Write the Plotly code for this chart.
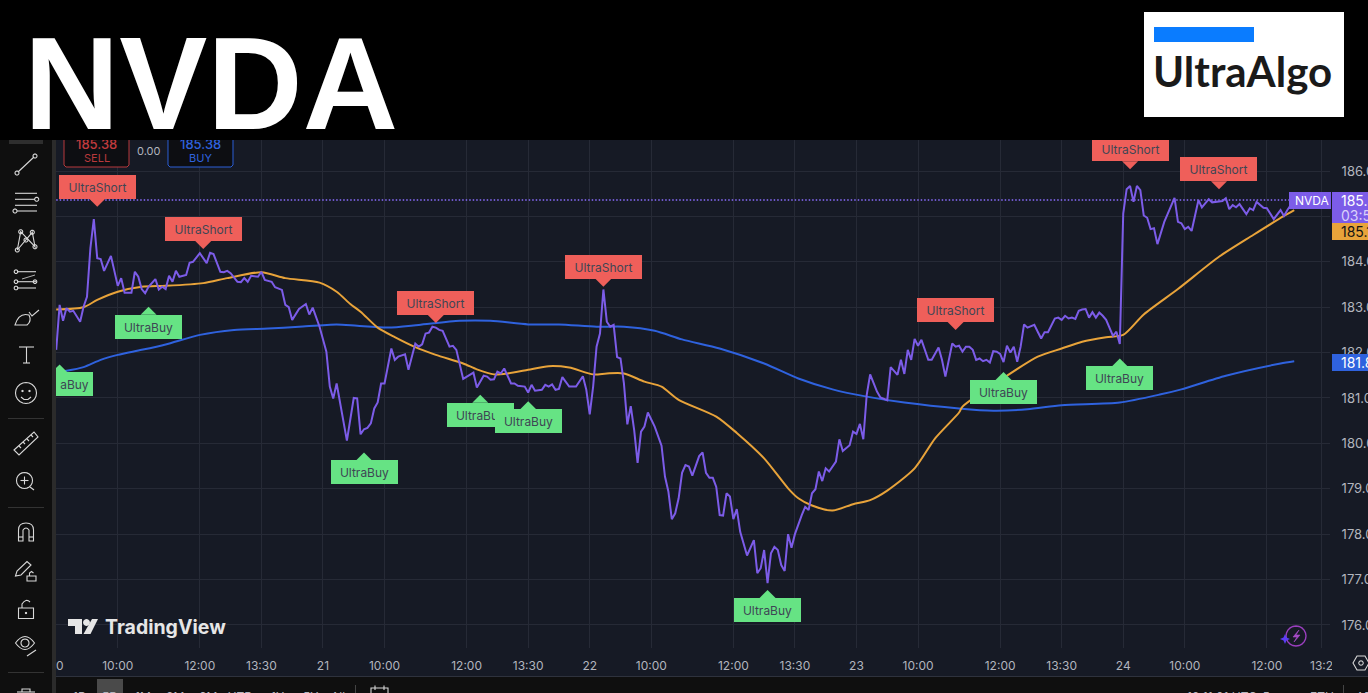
#!/usr/bin/env python3
"""NVDA 5-minute line chart with UltraAlgo signals, TradingView style."""

import math

import plotly.graph_objects as go

# ─── Data (bar = 5 min bar number, 78 bars per session) ─────────────────────────
close_bars = [
    0, 1, 2, 3, 4, 5, 7, 8, 9, 10, 11, 12, 13, 14, 16, 17, 18, 19, 20, 22, 23, 24, 25, 26, 27, 29, 30, 31, 32, 33, 34,
    35, 36, 38, 39, 40, 42, 44, 45, 46, 48, 49, 50, 51, 53, 54, 55, 56, 57, 59, 60, 61, 63, 64, 66, 67, 68, 69, 71, 73,
    74, 75, 77,
    79, 80, 81, 82, 85, 87, 88, 89, 90, 91, 92, 93, 94, 95, 96, 98, 99, 100, 102, 103, 105, 106, 107, 108, 109, 110,
    111, 112, 113, 115, 116, 117, 119, 120, 122, 123, 125, 126, 127, 128, 129, 130, 131, 133, 134, 135, 137, 138, 139,
    140, 142, 143, 144, 145, 146, 147, 148, 150, 152, 154, 155,
    156, 157, 158, 159, 160, 161, 162, 163, 164, 165, 166, 167, 168, 169, 170, 171, 172, 173, 175, 177, 178, 179, 180,
    181, 182, 183, 184, 185, 186, 187, 188, 189, 190, 191, 192, 193, 194, 195, 196, 197, 198, 199, 200, 202, 204, 205,
    206, 207, 208, 209, 210, 211, 212, 213, 214, 215, 216, 218, 219, 220, 221, 222, 223, 224, 225, 226, 228, 229, 230,
    232, 233,
    234, 235, 236, 237, 238, 239, 240, 241, 243, 244, 246, 247, 248, 249, 250, 251, 252, 253, 255, 256, 258, 259, 260,
    262, 263, 264, 265, 266, 267, 268, 269, 270, 271, 272, 273, 274, 275, 276, 277, 278, 279, 280, 281, 282, 283, 284,
    286, 287, 288, 289, 290, 292, 293, 294, 295, 296, 297, 298, 299, 300, 301, 302, 303, 304, 305, 306, 307, 309, 310,
    311,
    312, 313, 314, 315, 316, 317, 318, 319, 320, 321, 322, 324, 327, 328, 329, 330, 331, 332, 334, 335, 337, 338, 340,
    341, 342, 343, 344, 345, 346, 348, 349, 350, 351, 353, 354, 356, 358, 359, 360, 361, 362,
]
close_prices = [
    182.06, 183.05, 182.70, 182.98, 182.90, 182.92, 182.68, 183.01, 183.23, 184.30, 184.94, 184.08, 184.06, 183.80,
    184.13, 183.78, 183.47, 183.64, 183.32, 183.32, 183.78, 183.67, 183.40, 183.31, 183.45, 183.62, 183.39, 183.45,
    183.40, 183.69, 183.56, 183.80, 183.67, 183.71, 183.98, 184.00, 184.19, 183.97, 184.20, 184.17, 183.78, 183.77,
    183.80, 183.75, 183.56, 183.55, 183.64, 183.56, 183.69, 183.67, 183.78, 183.60, 183.56, 183.44, 183.38, 183.05,
    183.00, 182.72, 182.96, 183.07, 182.84, 182.99, 182.57,
    182.02, 181.25, 180.99, 181.32, 180.06, 181.00, 180.99, 180.20, 180.31, 180.34, 180.44, 180.77, 180.90, 181.32,
    181.32, 182.09, 181.84, 181.91, 181.96, 181.62, 182.20, 182.13, 182.18, 182.42, 182.44, 182.57, 182.55, 182.50,
    182.48, 182.13, 182.15, 182.06, 181.42, 181.47, 181.56, 181.23, 181.49, 181.47, 181.40, 181.41, 181.58, 181.54,
    181.65, 181.32, 181.32, 181.27, 181.25, 181.12, 181.29, 181.16, 181.18, 181.29, 181.25, 181.30, 181.18, 181.20,
    181.46, 181.25, 181.25, 181.48, 181.18,
    180.64, 181.25, 182.13, 182.42, 183.39, 182.68, 182.57, 182.61, 181.90, 181.87, 181.32, 180.42, 180.82, 180.29,
    179.57, 180.26, 180.37, 180.68, 180.37, 179.95, 179.27, 178.94, 178.33, 178.46, 178.79, 179.35, 179.52, 179.49,
    179.29, 179.49, 179.72, 179.80, 179.35, 179.24, 179.24, 179.04, 178.42, 178.41, 178.90, 178.83, 178.33, 178.55,
    178.05, 177.53, 177.87, 177.14, 177.25, 177.65, 176.92, 177.58, 177.72, 177.65, 177.32, 177.19, 178.00, 177.70,
    178.00, 178.42, 178.60, 178.53, 178.90, 178.99, 179.38, 179.17, 179.45, 179.38, 179.60, 180.09, 179.83, 179.96,
    180.26,
    180.21, 180.43, 180.09, 181.07, 181.52, 181.32, 181.14, 181.01, 180.95, 181.68, 181.51, 181.84, 181.53, 182.06,
    181.84, 182.30, 182.15, 182.28, 181.84, 181.84, 182.11, 181.84, 181.47, 182.20, 182.13, 182.15, 182.02, 182.13,
    182.13, 182.06, 181.84, 181.87, 181.81, 181.84, 181.78, 182.03, 182.02, 181.97, 181.79, 182.15, 182.00, 182.13,
    181.80, 182.13, 182.62, 182.55, 182.61, 182.46, 182.31, 182.45, 182.45, 182.75, 182.77, 182.72, 182.81, 182.75,
    182.77, 182.74, 182.92, 182.95, 182.96, 182.77, 182.89, 182.77, 182.88, 182.81, 182.72, 182.37, 182.46, 182.19,
    185.06, 185.60, 185.67, 185.32, 185.67, 185.58, 185.02, 184.97, 184.72, 184.74, 184.39, 184.88, 185.41, 184.88,
    184.85, 184.72, 184.77, 184.68, 185.36, 185.20, 185.38, 185.31, 185.34, 185.34, 185.40, 185.16, 185.25, 185.20,
    185.27, 185.05, 185.18, 185.14, 185.32, 185.19, 185.18, 184.94, 185.14, 185.01, 185.14, 185.25, 185.30,
]
assert len(close_bars) == len(close_prices), (len(close_bars), len(close_prices))

fast_ma_bars = [
    0, 8, 12, 18, 25, 32, 43, 50, 60, 67, 77, 82, 86, 89, 94, 99, 105, 111, 119, 123, 128, 132, 138, 144, 150, 157,
    161, 166, 172, 177, 182, 193, 199, 207, 214, 217, 221, 227, 233, 238, 243, 251, 257, 264, 265, 278, 287, 294, 300,
    307, 312, 318, 328, 340, 350, 359, 362,
]
fast_ma = [
    182.95, 183.00, 183.16, 183.34, 183.45, 183.47, 183.53, 183.64, 183.77, 183.64, 183.54, 183.34, 183.07, 182.90,
    182.55, 182.34, 182.12, 181.95, 181.76, 181.63, 181.52, 181.54, 181.62, 181.70, 181.67, 181.52, 181.54, 181.54,
    181.36, 181.25, 180.96, 180.59, 180.23, 179.67, 179.01, 178.79, 178.63, 178.52, 178.66, 178.75, 178.96, 179.45,
    180.11, 180.68, 180.81, 181.49, 181.91, 182.09, 182.24, 182.34, 182.39, 182.84, 183.40, 184.11, 184.59, 185.01,
    185.14,
]
slow_ma_bars = [
    0, 3, 8, 13, 18, 25, 32, 42, 52, 62, 71, 82, 88, 97, 106, 118, 127, 138, 147, 158, 166, 175, 183, 194, 207, 217,
    227, 237, 248, 264, 274, 284, 294, 311, 323, 329, 342, 358, 362,
]
slow_ma = [
    181.57, 181.60, 181.68, 181.84, 181.95, 182.06, 182.18, 182.39, 182.50, 182.53, 182.57, 182.62, 182.59, 182.55,
    182.61, 182.70, 182.70, 182.62, 182.62, 182.57, 182.57, 182.48, 182.29, 182.09, 181.76, 181.43, 181.19, 181.03,
    180.90, 180.77, 180.72, 180.75, 180.84, 180.90, 181.08, 181.19, 181.49, 181.76, 181.81,
]

short_bars = [12, 43, 111, 160, 263, 314, 340]
short_prices = [185.21, 184.28, 182.65, 183.45, 182.50, 186.04, 185.60]
buy_bars = [1, 27, 90, 124, 138, 208, 277, 311]
buy_prices = [181.74, 183.01, 179.80, 181.07, 180.93, 176.77, 181.57, 181.87]
buy_texts = ["aBuy", "UltraBuy", "UltraBuy", "UltraBuy", "UltraBuy", "UltraBuy", "UltraBuy", "UltraBuy"]

last_price_line = 185.36
time_ticks = [0, 18, 42, 60, 78, 96, 120, 138, 156, 174, 198, 216, 234, 252, 276, 294, 312, 330, 354, 370]
time_labels = ["20", "10:00", "12:00", "13:30", "21", "10:00", "12:00", "13:30", "22", "10:00", "12:00", "13:30",
               "23", "10:00", "12:00", "13:30", "24", "10:00", "12:00", "13:2"]
price_ticks = [176, 177, 178, 179, 180, 181, 182, 183, 184, 185, 186]
price_labels = ["176.00", "177.00", "178.00", "179.00", "180.00", "181.00", "182.00", "183.00", "184.00", "185.00", "186.00"]
range_labels = ["1D", "5D", "1M", "3M", "6M", "YTD", "1Y", "5Y", "All"]
range_label_px = [80, 110, 143, 175, 208, 240, 277, 310, 338]

# ─── Colors ─────────────────────────────────────────────────────────────────────
BG = "#161a25"
GRID = "#262a36"
PANEL = "#0f0f0f"
AXIS_TEXT = "#b2b5be"
ICON = "#d8d8d8"
PURPLE = "#7c5ce8"
ORANGE = "#e8a33a"
BLUE = "#2f62de"
RED = "#ef5f5a"
GREEN = "#66e384"
LABEL_TEXT = "#3e4654"
FONT = "Inter"

# ─── Page geometry (the plot area sits at x 56..1330, y 140..648) ───────────────
W, H = 1368, 693
L, R, T, B = 56, 1330, 140, 648


def px(x):
    return (x - L) / (R - L)


def py(y):
    return (B - y) / (B - T)


def poly(points, close=False):
    d = "M" + " L".join(f"{px(x):.5f},{py(y):.5f}" for x, y in points)
    return d + (" Z" if close else "")


def circ(cx, cy, r, n=20):
    pts = [(cx + r * math.cos(2 * math.pi * i / n), cy + r * math.sin(2 * math.pi * i / n)) for i in range(n)]
    return poly(pts, close=True)


def page_rect(x0, y0, x1, y1, fill, line=None, width=1):
    return dict(type="rect", xref="paper", yref="paper", layer="above",
                x0=px(x0), x1=px(x1), y0=py(y1), y1=py(y0), fillcolor=fill,
                line=dict(color=line or fill, width=width if line else 0))


def page_path(d, color=ICON, width=1.1, fill="rgba(0,0,0,0)"):
    return dict(type="path", xref="paper", yref="paper", layer="above", path=d,
                fillcolor=fill, line=dict(color=color, width=width))


def text_at(text, x, y, size=12, color=AXIS_TEXT, anchor="center", family=FONT, **kw):
    return dict(text=text, xref="paper", yref="paper", x=px(x), y=py(y), xanchor=anchor, yanchor="middle",
                showarrow=False, font=dict(size=size, color=color, family=family, **kw.pop("font", {})),
                borderwidth=0, borderpad=0, **kw)


def toolbar_shapes():
    s = [page_rect(0, 140, 52, H, PANEL), page_rect(52, 140, 56, H, "#2b2b2b"),
         page_rect(56, 677, W, H, PANEL), page_rect(56, 676, W, 677, "#2e323d"),
         page_rect(9, 138, 43, 144, "#2e2e2e"), page_rect(97, 679, 123, H, "#4a4a4a"),
         page_rect(1332, 648, W, 676, BG)]
    s.append(page_rect(355, 685, 356, H, "#444444"))
    s.append(page_rect(1343, 685, 1344, H, "#444444"))
    # line tool
    s += [page_path(poly([(18, 172), (34, 157)])), page_path(circ(17, 173, 2)), page_path(circ(35, 156, 2))]
    # parallel lines
    for y, x0, x1 in [(193.3, 15, 37), (199.3, 15, 35), (205.3, 15, 37), (211, 17, 37)]:
        s.append(page_path(poly([(x0, y), (x1, y)])))
    s += [page_path(circ(36.7, 199.3, 2)), page_path(circ(15, 211, 2))]
    # pattern
    s.append(page_path(poly([(17.3, 250), (20.7, 231.7), (35, 246.7), (32.3, 232.3), (17.3, 250)])))
    s += [page_path(circ(x, y, 2)) for x, y in [(17.3, 250), (20.7, 231.7), (35, 246.7), (32.3, 232.3), (26, 240)]]
    # fib lines
    for y in [271.7, 281.7, 288]:
        s.append(page_path(poly([(17, y), (36, y)])))
    s.append(page_path(poly([(22, 279), (35, 275)]), width=0.8))
    s += [page_path(circ(16, y, 1.8)) for y in [271.7, 281.7, 288]]
    s.append(page_path(circ(35, 281.7, 1.8)))
    # brush
    s.append(page_path("M" + f"{px(15)},{py(325)} Q{px(19)},{py(312)} {px(29)},{py(315)} "
                       f"Q{px(32)},{py(321)} {px(27)},{py(325)} Z"))
    s.append(page_path(poly([(29, 312), (32, 316), (39, 310)])))
    # text tool
    s += [page_path(poly([(19, 347), (34, 347)])), page_path(poly([(26.5, 347), (26.5, 363)])),
          page_path(poly([(23, 363), (30, 363)]))]
    # smile
    s += [page_path(circ(26, 393, 10.5)), page_path(circ(22.5, 391, 0.6)), page_path(circ(29.5, 391, 0.6)),
          page_path(poly([(21, 397), (24, 399.5), (28, 399.5), (31, 397)]))]
    # separators
    for y in [418, 507, 672]:
        s.append(page_rect(8, y, 44, y + 1, "#333333"))
    # ruler
    s.append(page_path(poly([(14, 450), (34, 432), (38, 437), (19, 455)], close=True)))
    s += [page_path(poly([(x, y), (x + 2, y + 2)])) for x, y in [(19, 446), (23, 442), (27, 439), (31, 435)]]
    # zoom
    s += [page_path(circ(24.5, 480.5, 8)), page_path(poly([(30, 487), (34, 490)])),
          page_path(poly([(20.5, 480.5), (28.5, 480.5)])), page_path(poly([(24.5, 476.5), (24.5, 484.5)]))]
    # magnet
    s.append(page_path("M" + f"{px(18.5)},{py(541)} L{px(18.5)},{py(530)} Q{px(18.5)},{py(523)} {px(26)},{py(523)} "
                       f"Q{px(33.5)},{py(523)} {px(33.5)},{py(530)} L{px(33.5)},{py(541)} L{px(29)},{py(541)} "
                       f"L{px(29)},{py(530)} Q{px(26)},{py(526)} {px(23)},{py(530)} L{px(23)},{py(541)} Z"))
    s += [page_path(poly([(18.5, 537), (23, 537)])), page_path(poly([(29, 537), (33.5, 537)]))]
    # drawing lock
    s.append(page_path(poly([(15.5, 576), (17, 571), (27, 561.5), (31, 565), (21, 575)], close=True)))
    s += [page_path(poly([(27, 576), (36, 576), (36, 581), (27, 581)], close=True)),
          page_path(poly([(29.5, 576), (29.5, 573), (31.5, 571.5), (33.5, 573)]))]
    # lock
    s += [page_path(poly([(18.5, 608), (33.5, 608), (33.5, 618.5), (18.5, 618.5)], close=True)),
          page_path("M" + f"{px(22)},{py(608)} L{px(22)},{py(604)} Q{px(26)},{py(598)} {px(30)},{py(602)}"),
          page_path(circ(26, 613, 0.6))]
    # eye
    s += [page_path("M" + f"{px(15.5)},{py(643)} Q{px(25)},{py(630)} {px(34.5)},{py(643)} "
                    f"Q{px(25)},{py(656)} {px(15.5)},{py(643)} Z"),
          page_path(circ(25, 643, 4)), page_path(poly([(27, 656), (36, 650)]))]
    # trash
    s += [page_path(poly([(17, 692), (35, 692)])), page_path(poly([(22, 692), (22, 689), (30, 689), (30, 692)]))]
    # calendar
    s += [page_path(poly([(371, 697), (371, 688), (388, 688), (388, 697)])),
          page_path(poly([(375, 685.5), (375, 690)])), page_path(poly([(384, 685.5), (384, 690)]))]
    # chart settings
    hexagon = [(1361 + 8 * math.cos(math.pi * i / 3), 663 + 8 * math.sin(math.pi * i / 3)) for i in range(6)]
    s += [page_path(poly(hexagon, close=True)), page_path(circ(1361, 663, 2.2))]
    return s


def chart_overlay_shapes():
    s = []
    # order panel boxes, cut off by the header
    s.append(page_path(poly([(64, 135), (129, 135), (129, 165), (127, 167), (66, 167), (64, 165)], close=True),
                       color="#b8393c", width=1, fill="#0d0e12"))
    s.append(page_path(poly([(168, 135), (233, 135), (233, 165), (231, 167), (170, 167), (168, 165)], close=True),
                       color="#2c5fd6", width=1, fill="#0d0e12"))
    # TradingView mark
    s.append(page_path(poly([(68, 619), (82, 619), (82, 634), (75, 634), (75, 626), (68, 626)], close=True),
                       color="#e6e6e6", width=0, fill="#e6e6e6"))
    s.append(page_path(circ(86.5, 622.5, 3.4), color="#e6e6e6", width=0, fill="#e6e6e6"))
    s.append(page_path(poly([(92, 619), (98, 619), (90.5, 634), (83.5, 634)], close=True),
                       color="#e6e6e6", width=0, fill="#e6e6e6"))
    # assistant badge
    s.append(page_path(circ(1296, 636, 10), color="#9a3fbe", width=1.4))
    s.append(page_path(poly([(1299, 630), (1293, 637), (1297, 637), (1294, 642), (1300, 635), (1296, 635)], close=True),
                       color="#a64bc8", width=0.6, fill="#a64bc8"))
    s.append(page_path(poly([(1285, 634), (1286.5, 637.5), (1290, 639), (1286.5, 640.5), (1285, 644),
                             (1283.5, 640.5), (1280, 639), (1283.5, 637.5)], close=True),
                       color="#5b3df5", width=0, fill="#5b3df5"))
    # price chips on the right edge
    s.append(page_rect(1289, 192, 1331, 209, PURPLE))
    s.append(page_rect(1332, 192, W, 223, PURPLE))
    s.append(page_rect(1332, 223, W, 240, ORANGE))
    s.append(page_rect(1332, 354, W, 371, BLUE))
    return s


def signal_pointers():
    # pointers are sized in pixels and hang off the signal's bar and price
    s = []
    for bar, price in zip(short_bars, short_prices):
        s.append(dict(type="path", xref="x", yref="y", xsizemode="pixel", ysizemode="pixel",
                      xanchor=bar, yanchor=price, layer="above", fillcolor=RED, line=dict(width=0),
                      path="M-8,8 L8,8 L0,0 Z"))
    for bar, price in zip(buy_bars, buy_prices):
        s.append(dict(type="path", xref="x", yref="y", xsizemode="pixel", ysizemode="pixel",
                      xanchor=bar, yanchor=price, layer="above", fillcolor=GREEN, line=dict(width=0),
                      path="M-8,-8 L8,-8 L0,0 Z"))
    return s


def signal_labels():
    a = []
    for bar, price in zip(short_bars, short_prices):
        a.append(dict(x=bar, y=price, xref="x", yref="y", text="UltraShort", showarrow=False, yshift=20,
                      width=77, height=24, bgcolor=RED, borderwidth=0, borderpad=0, valign="middle",
                      font=dict(size=12, color=LABEL_TEXT, family=FONT)))
    for bar, price, label in zip(buy_bars, buy_prices, buy_texts):
        clipped = label != "UltraBuy"
        a.append(dict(x=bar, y=price, xref="x", yref="y", text=label, showarrow=False, yshift=-20,
                      xshift=15 if clipped else 0, width=37 if clipped else 67, height=24, bgcolor=GREEN,
                      borderwidth=0, borderpad=0, valign="middle",
                      font=dict(size=12, color=LABEL_TEXT, family=FONT)))
    return a


fig = go.Figure()
fig.add_trace(go.Scatter(x=[0, close_bars[-1]], y=[last_price_line, last_price_line], mode="lines",
                         line=dict(color="#8a6cff", width=1.5, dash="1.5px,2px"), hoverinfo="skip"))
fig.add_trace(go.Scatter(x=slow_ma_bars, y=slow_ma, mode="lines",
                         line=dict(color=BLUE, width=2, shape="spline", smoothing=0.7), name="Slow MA"))
fig.add_trace(go.Scatter(x=fast_ma_bars, y=fast_ma, mode="lines",
                         line=dict(color=ORANGE, width=2, shape="spline", smoothing=0.7), name="Fast MA"))
fig.add_trace(go.Scatter(x=close_bars, y=close_prices, mode="lines", line=dict(color=PURPLE, width=2), name="NVDA"))

annotations = [
    text_at("185.38", 96.5, 143.5, size=13, color="#c23b3e", font=dict(weight=500)),
    text_at("SELL", 96.5, 158, size=11, color="#b8393c"),
    text_at("0.00", 148, 151, size=11, color=AXIS_TEXT),
    text_at("185.38", 200.5, 143.5, size=13, color="#2f62de", font=dict(weight=500)),
    text_at("BUY", 200.5, 158, size=11, color="#2f62de"),
    text_at("TradingView", 105, 627, size=19.5, color="#e6e6e6", anchor="left", font=dict(weight=700)),
]
annotations += signal_labels()
annotations += [
    text_at("NVDA", 1329, 200.5, size=12, color="#ffffff", anchor="right"),
    text_at("185.38", 1341, 200, size=14, color="#ffffff", anchor="left"),
    text_at("03:58", 1341, 215, size=14, color="#d9d0fa", anchor="left"),
    text_at("185.15", 1341, 231.5, size=14, color="#131313", anchor="left"),
    text_at("181.81", 1341, 362.5, size=14, color="#ffffff", anchor="left"),
]
annotations += [text_at(t, x, 696, size=12, color=AXIS_TEXT) for t, x in zip(range_labels, range_label_px)]
annotations.append(text_at("18:11:01 UTC-5", 1187, 696, size=12, color=AXIS_TEXT, anchor="left"))
annotations.append(text_at("ETH", 1310, 696, size=12, color=AXIS_TEXT, anchor="left"))
annotations.append(text_at("ADJ", 1356, 696, size=12, color=AXIS_TEXT, anchor="left"))
# header band goes over the chart's top edge, so it has to come after the labels
annotations += [
    dict(text="&#160;", xref="paper", yref="paper", x=px(0), y=py(0), xanchor="left", yanchor="top", showarrow=False,
         width=W, height=T, bgcolor="#000000", borderwidth=0, borderpad=0),
    text_at("NVDA", 24, 84, size=132, color="#ffffff", anchor="left", family="Liberation Sans", font=dict(weight=700)),
    dict(text="&#160;", xref="paper", yref="paper", x=px(1144), y=py(12), xanchor="left", yanchor="top", showarrow=False,
         width=200, height=105, bgcolor="#ffffff", borderwidth=0, borderpad=0),
    dict(text="&#160;", xref="paper", yref="paper", x=px(1154), y=py(27), xanchor="left", yanchor="top", showarrow=False,
         width=100, height=15, bgcolor="#0a7cff", borderwidth=0, borderpad=0),
    text_at("UltraAlgo", 1153, 71, size=42, color="#1a1a1a", anchor="left", family="Lato", font=dict(weight=700)),
]

fig.update_layout(
    width=W, height=H,
    margin=dict(l=L, r=W - R, t=T, b=H - B, autoexpand=False),
    paper_bgcolor=BG, plot_bgcolor=BG,
    showlegend=False, hovermode=False, dragmode=False,
    font=dict(family=FONT, color=AXIS_TEXT, size=12),
    annotations=annotations,
    shapes=chart_overlay_shapes() + signal_pointers() + toolbar_shapes(),
)
fig.update_xaxes(range=[-0.06, 372.46], tickmode="array", tickvals=time_ticks, ticktext=time_labels,
                 showgrid=True, gridcolor=GRID, gridwidth=1, zeroline=False, showline=False,
                 ticks="outside", ticklen=7, tickcolor="rgba(0,0,0,0)", tickangle=0,
                 tickfont=dict(size=12, color=AXIS_TEXT, family=FONT))
fig.update_yaxes(range=[175.492, 186.683], side="right", tickmode="array", tickvals=price_ticks, ticktext=price_labels,
                 showgrid=True, gridcolor=GRID, gridwidth=1, zeroline=False, showline=False,
                 ticks="outside", ticklen=8, tickcolor="rgba(0,0,0,0)",
                 tickfont=dict(size=13, color=AXIS_TEXT, family=FONT))

fig.write_html("out.html", config=dict(displayModeBar=False),
               post_script="document.body.style.margin='0';document.body.style.overflow='hidden';")
